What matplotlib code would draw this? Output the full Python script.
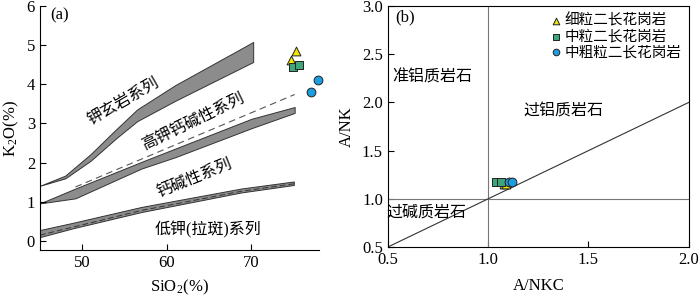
import matplotlib
matplotlib.use('Agg')
import matplotlib.pyplot as plt

plt.rcParams['font.family'] = ['Liberation Serif', 'Noto Sans CJK SC']
plt.rcParams['mathtext.fontset'] = 'stix'

# ---- data ----
# (a) SiO2 - K2O bands
band1_x = [45, 48, 51, 54, 56.5, 61, 70.2]
band1_hi = [1.41, 1.67, 2.22, 2.85, 3.36, 3.98, 5.08]
band1_lo = [1.41, 1.60, 2.05, 2.62, 3.06, 3.58, 4.57]

band2_x = [45, 49.2, 57, 61, 70, 75.1]
band2_hi = [0.96, 1.34, 2.02, 2.36, 3.12, 3.42]
band2_lo = [0.96, 1.09, 1.85, 2.14, 2.88, 3.27]

band3_x = [45, 49, 57, 68.8, 75]
band3_hi = [0.28, 0.47, 0.87, 1.34, 1.52]
band3_lo = [0.10, 0.33, 0.74, 1.24, 1.43]

dash_hk_x = [49.2, 75.1]
dash_hk_y = [1.38, 3.74]
dash_lk_x = [45, 57, 68.8, 75]
dash_lk_y = [0.15, 0.78, 1.27, 1.46]

# samples
rock_types = ['细粒二长花岗岩', '中粒二长花岗岩', '中粗粒二长花岗岩']
sio2 = [[75.27, 74.64], [74.96, 75.56], [77.86, 77.02]]
k2o = [[4.85, 4.63], [4.43, 4.49], [4.11, 3.81]]
ankc = [[1.077, 1.087], [1.038, 1.062], [1.102, 1.117]]
ank = [[1.15, 1.15], [1.17, 1.17], [1.17, 1.17]]

markers = ['^', 's', 'o']
colors = ['#f3e600', '#3ea67a', '#1b9ddf']

fig = plt.figure(figsize=(7, 2.98), dpi=100)

# ---------------- (a) ----------------
ax1 = fig.add_axes([0.057, 0.161, 0.399, 0.819])
for bx, hi, lo in [(band1_x, band1_hi, band1_lo),
                   (band2_x, band2_hi, band2_lo),
                   (band3_x, band3_hi, band3_lo)]:
    ax1.fill_between(bx, lo, hi, facecolor='#8c8c8c', edgecolor='#333333', lw=0.7)
ax1.plot(dash_hk_x, dash_hk_y, color='#555555', lw=0.8, ls=(0, (6, 4)))
ax1.plot(dash_lk_x, dash_lk_y, color='#333333', lw=0.7, ls=(0, (6, 3)))

for i in range(3):
    ax1.scatter(sio2[i], k2o[i], marker=markers[i], s=40, c=colors[i],
                edgecolors='#222222', linewidths=0.7, zorder=5, clip_on=False)

ax1.text(54.9, 3.56, '钾玄岩系列', rotation=30, ha='center', va='center', fontsize=11.5)
ax1.text(63.1, 3.03, '高钾钙碱性系列', rotation=26, ha='center', va='center', fontsize=11.5)
ax1.text(63.3, 1.59, '钙碱性系列', rotation=22, ha='center', va='center', fontsize=11.5)
ax1.text(64.9, 0.28, '低钾(拉斑)系列', ha='center', va='center', fontsize=11.5)
ax1.text(0.072, 0.96, '(a)', transform=ax1.transAxes, ha='center', va='center', fontsize=12)

ax1.set_xlim(45, 78)
ax1.set_ylim(-0.23, 6)
ax1.set_xticks([50, 60, 70])
ax1.set_yticks([0, 1, 2, 3, 4, 5, 6])
ax1.spines['top'].set_visible(False)
ax1.spines['right'].set_visible(False)
ax1.tick_params(direction='in', labelsize=12, length=4, width=0.8)
ax1.set_xlabel(r'SiO$_\mathregular{2}$(%)', fontsize=12, labelpad=5)
ax1.set_ylabel(r'K$_\mathregular{2}$O(%)', fontsize=12, labelpad=4)

# ---------------- (b) ----------------
ax2 = fig.add_axes([0.554, 0.171, 0.43, 0.809])
ax2.axvline(1.0, color='#777777', lw=0.8)
ax2.axhline(1.0, color='#777777', lw=0.8)
ax2.plot([0.5, 2.0], [0.5, 2.0], color='#333333', lw=0.8)

for i in range(3):
    ax2.scatter(ankc[i], ank[i], marker=markers[i], s=40, c=colors[i],
                edgecolors='#222222', linewidths=0.7, zorder=5, label=rock_types[i])

ax2.text(0.722, 2.26, '准铝质岩石', ha='center', va='center', fontsize=11.5)
ax2.text(1.373, 1.91, '过铝质岩石', ha='center', va='center', fontsize=11.5)
ax2.text(0.692, 0.86, '过碱质岩石', ha='center', va='center', fontsize=11.5)
ax2.text(0.056, 0.951, '(b)', transform=ax2.transAxes, ha='center', va='center', fontsize=12)

ax2.legend(loc='upper right', bbox_to_anchor=(1.0, 1.0), frameon=False, fontsize=10.5,
           handlelength=0.7, handletextpad=0.25, labelspacing=0.15, borderaxespad=0.1,
           markerscale=0.75)

ax2.set_xlim(0.5, 2.0)
ax2.set_ylim(0.5, 3.0)
ax2.set_xticks([0.5, 1.0, 1.5, 2.0])
ax2.set_yticks([0.5, 1.0, 1.5, 2.0, 2.5, 3.0])
ax2.tick_params(direction='in', labelsize=12, length=4, width=0.8)
ax2.set_xlabel('A/NKC', fontsize=12, labelpad=7)
ax2.set_ylabel('A/NK', fontsize=12, labelpad=5)

plt.savefig('out.png', dpi=100)
